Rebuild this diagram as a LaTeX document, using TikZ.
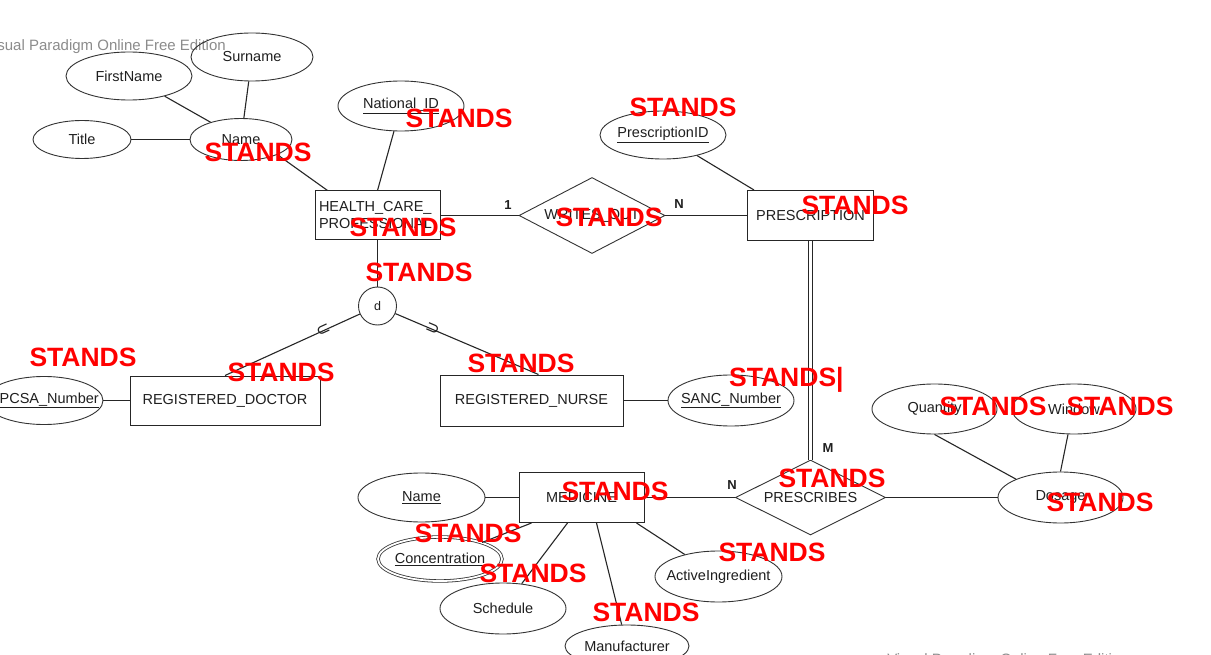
\documentclass[tikz,border=0pt]{standalone}
\usepackage{fontspec}
\setmainfont{Liberation Sans}
\newfontfamily\djv{DejaVu Sans}
\usetikzlibrary{shapes.geometric,calc}
\newcommand\zw[1]{\makebox[0pt]{#1}}
\begin{document}
\begin{tikzpicture}[x=1pt,y=-1pt,
  every node/.style={font=\fontsize{14.5}{17}\selectfont, text=black!88},
  attr/.style={draw=black!80, line width=0.9pt, ellipse, inner sep=0pt},
  ent/.style={draw=black!85, line width=1pt, rectangle, inner sep=0pt},
  rel/.style={draw=black!80, line width=0.9pt, diamond, aspect=2, inner sep=0pt},
  conn/.style={draw=black!85, line width=1.1pt},
  subsym/.style={sloped, inner sep=0pt, font=\djv\fontsize{17}{17}\selectfont},
  stands/.style={text=red, font=\fontsize{26.5}{30}\selectfont\bfseries, inner sep=0pt},
  card/.style={font=\fontsize{13}{15}\selectfont\bfseries, inner sep=0pt},
  wm/.style={text=black!45, font=\fontsize{15}{18}\selectfont, inner sep=0pt}
]
\useasboundingbox (0,0) rectangle (1211,655);
\fill[white] (0,0) rectangle (1211,655);

% watermarks
\node[wm, anchor=east] (wm1) at (226,47) {Visual Paradigm Online Free Edition};
\node[wm] (wm2) at (1008,661) {Visual Paradigm Online Free Edition};

% attributes of HEALTH_CARE_PROFESSIONAL
\node[attr, minimum width=126, minimum height=48] (fn) at (129,76) {\zw{FirstName}};
\node[attr, minimum width=122, minimum height=48] (sn) at (252,57) {\zw{Surname}};
\node[attr, minimum width=98, minimum height=38] (title) at (82,139.5) {\zw{Title}};
\node[attr, minimum width=102, minimum height=42] (name) at (241,139.5) {\zw{Name}};
\node[attr, minimum width=126, minimum height=50] (nid) at (401,106) {\zw{\underline{National\_ID}}};

% entities and relationships
\node[ent, minimum width=125, minimum height=49, align=left, text width=117] (hcp) at (377.5,215.5) {HEALTH\_CARE\_\\PROFESSIONAL};
\node[rel, minimum width=146, minimum height=76] (wo) at (592,215.5) {\zw{WRITES\_OUT}};
\node[ent, minimum width=126, minimum height=50] (presc) at (810.5,215.5) {PRESCRIPTION};
\node[attr, minimum width=126, minimum height=48] (pid) at (663,135) {\zw{\underline{PrescriptionID}}};
\node[circle, draw=black!80, line width=0.9pt, minimum size=38, inner sep=0pt, font=\fontsize{12.5}{14}\selectfont] (d) at (377.5,306) {d};
\node[ent, minimum width=190, minimum height=49] (doc) at (225,400.5) {REGISTERED\_DOCTOR};
\node[attr, minimum width=118, minimum height=48] (hpcsa) at (44,400.5) {\zw{\underline{HPCSA\_Number}}};
\node[ent, minimum width=183, minimum height=51] (nurse) at (531.5,400.5) {REGISTERED\_NURSE};
\node[attr, minimum width=126, minimum height=51] (sanc) at (731,400.5) {\zw{\underline{SANC\_Number}}};
\node[rel, minimum width=150, minimum height=75] (pres) at (810.5,497.5) {\zw{PRESCRIBES}};
\node[ent, minimum width=125, minimum height=50] (med) at (581.5,497.5) {MEDICINE};
\node[attr, minimum width=127, minimum height=49] (mname) at (421.5,497.5) {\zw{\underline{Name}}};
\node[attr, double, double distance=1.8pt, line width=0.8pt, minimum width=124, minimum height=44] (conc) at (440,559) {\zw{\underline{Concentration}}};
\node[attr, minimum width=126, minimum height=51] (sch) at (503,608.5) {\zw{Schedule}};
\node[attr, minimum width=124, minimum height=42] (manu) at (627,646) {\zw{Manufacturer}};
\node[attr, minimum width=127, minimum height=51] (ai) at (718.5,576.5) {\zw{ActiveIngredient}};
\node[attr, minimum width=125, minimum height=50] (qty) at (934.5,409) {\zw{Quantity}};
\node[attr, minimum width=124, minimum height=50] (win) at (1074,409) {\zw{Window}};
\node[attr, minimum width=125, minimum height=51] (dos) at (1060.5,497.5) {\zw{Dosage}};

% connectors
\draw[conn] (fn) -- (name);
\draw[conn] (sn) -- (name);
\draw[conn] (title) -- (name);
\draw[conn] (name.south east) -- ($(hcp.north west)+(13,0)$);
\draw[conn] (nid) -- (hcp.north);
\draw[conn] (hcp) -- (wo);
\draw[conn] (wo) -- (presc);
\draw[conn] (pid) -- ($(presc.north west)+(7,0)$);
\draw[draw=black!85, line width=0.9pt, double, double distance=3.6pt] (presc.south) -- (pres.north);
\draw[conn] (hcp.south) -- (d.north);
\draw[conn] (d) -- node[subsym, pos=0.27] {⊂} (doc.north);
\draw[conn] (d) -- node[subsym, pos=0.26] {⊃} ($(nurse.north)+(7,0)$);
\draw[conn] (hpcsa) -- (doc);
\draw[conn] (nurse) -- (sanc);
\draw[conn] (mname) -- (med);
\draw[conn] (med) -- (pres);
\draw[conn] (pres) -- (dos);
\draw[conn] ($(med.south west)+(13,0)$) -- (conc);
\draw[conn] ($(med.south west)+(49,0)$) -- (sch);
\draw[conn] ($(med.south west)+(78,0)$) -- (manu);
\draw[conn] ($(med.south east)+(-8,0)$) -- (ai);
\draw[conn] (qty.south) -- (dos.north west);
\draw[conn] ($(win.south)+(-6,0)$) -- (dos.north);

% cardinalities
\node[card] (c1) at (508,205) {1};
\node[card] (c2) at (679,204) {N};
\node[card] (c3) at (828,448) {M};
\node[card] (c4) at (732,485) {N};

% red overlays
\node[stands] (s1) at (258,152) {STANDS};
\node[stands] (s2) at (459,118) {STANDS};
\node[stands] (s3) at (403,227) {STANDS};
\node[stands] (s4) at (419,272) {STANDS};
\node[stands] (s5) at (609,217) {STANDS};
\node[stands] (s6) at (683,107) {STANDS};
\node[stands] (s7) at (855,205) {STANDS};
\node[stands] (s8) at (83,357) {STANDS};
\node[stands] (s9) at (281,372) {STANDS};
\node[stands] (s10) at (521,363) {STANDS};
\node[stands, anchor=west] (s11) at (729,380) {STANDS|};
\node[stands] (s12) at (832,478) {STANDS};
\node[stands] (s13) at (615,491) {STANDS};
\node[stands] (s14) at (468,533) {STANDS};
\node[stands] (s15) at (533,573) {STANDS};
\node[stands] (s16) at (646,612) {STANDS};
\node[stands] (s17) at (772,552) {STANDS};
\node[stands] (s18) at (993,406) {STANDS};
\node[stands] (s19) at (1120,406) {STANDS};
\node[stands] (s20) at (1100,502) {STANDS};
\end{tikzpicture}
\end{document}
